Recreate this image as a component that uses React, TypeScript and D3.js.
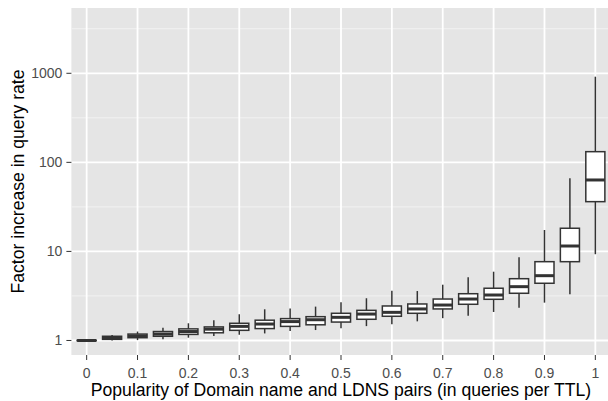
import React from "react";
import * as d3 from "d3";

// popularity bins (queries per TTL)
const categories = ["0", "0.05", "0.1", "0.15", "0.2", "0.25", "0.3", "0.35", "0.4", "0.45", "0.5",
  "0.55", "0.6", "0.65", "0.7", "0.75", "0.8", "0.85", "0.9", "0.95", "1"];
const xTickLabels = ["0", "0.1", "0.2", "0.3", "0.4", "0.5", "0.6", "0.7", "0.8", "0.9", "1"];

// box stats
const whiskerLow = [0.99, 1.0, 1.01, 1.03, 1.075, 1.12, 1.16, 1.2, 1.28, 1.31, 1.37,
  1.45, 1.52, 1.64, 1.78, 1.9, 2.09, 2.33, 2.66, 3.3, 9.3];
const q1 = [0.995, 1.03, 1.075, 1.115, 1.17, 1.22, 1.3, 1.36, 1.44, 1.5, 1.61,
  1.73, 1.87, 2.02, 2.26, 2.55, 2.9, 3.39, 4.39, 7.67, 36.2];
const median = [1.0, 1.07, 1.12, 1.18, 1.26, 1.34, 1.44, 1.53, 1.63, 1.71, 1.82,
  1.98, 2.07, 2.26, 2.5, 2.92, 3.24, 4.02, 5.34, 11.5, 63.4];
const q3 = [1.005, 1.115, 1.18, 1.26, 1.35, 1.42, 1.56, 1.69, 1.76, 1.85, 2.02,
  2.18, 2.44, 2.57, 2.92, 3.35, 3.86, 4.94, 7.67, 18.2, 131.8];
const whiskerHigh = [1.01, 1.15, 1.26, 1.39, 1.56, 1.69, 1.97, 2.24, 2.28, 2.4, 2.68,
  2.98, 3.62, 3.59, 4.23, 5.12, 5.92, 8.59, 17.4, 66.2, 916];

const yTicks = [1, 10, 100, 1000];
const yMinor = [Math.sqrt(10), Math.sqrt(1000), Math.sqrt(100000), Math.sqrt(10000000)];

const W = 608, H = 401;
const panel = { left: 71.4, right: 610.6, top: 8, bottom: 355 };
const font = "'Liberation Sans', Arial, Helvetica, sans-serif";

export default function App() {
  const x = d3.scalePoint<string>()
    .domain(categories)
    .range([panel.left, panel.right])
    .padding(0.6);
  const y = d3.scaleLog()
    .domain([Math.pow(10, -0.163), Math.pow(10, 3.733)])
    .range([panel.bottom, panel.top]);
  const bw = x.step() * 0.75;
  const boxStroke = "#333333";

  return (
    <svg width={W} height={H} style={{ position: "absolute", left: 0, top: 0, background: "#fff" }}>
      <rect x={panel.left} y={panel.top} width={panel.right - panel.left}
        height={panel.bottom - panel.top} fill="#E5E5E5" />
      {yMinor.map((v, i) => (
        <line key={"ym" + i} x1={panel.left} x2={panel.right} y1={y(v)} y2={y(v)}
          stroke="#F2F2F2" strokeWidth={1} />
      ))}
      {yTicks.map((v) => (
        <line key={"yg" + v} x1={panel.left} x2={panel.right} y1={y(v)} y2={y(v)}
          stroke="#ffffff" strokeWidth={1.8} />
      ))}
      {xTickLabels.map((c) => (
        <line key={"xg" + c} x1={x(c)} x2={x(c)} y1={panel.top} y2={panel.bottom}
          stroke="#ffffff" strokeWidth={1.8} />
      ))}

      {categories.map((c, i) => {
        const cx = x(c) as number;
        return (
          <g key={"box" + c}>
            <line x1={cx} x2={cx} y1={y(whiskerHigh[i])} y2={y(q3[i])} stroke={boxStroke} strokeWidth={1.5} />
            <line x1={cx} x2={cx} y1={y(q1[i])} y2={y(whiskerLow[i])} stroke={boxStroke} strokeWidth={1.5} />
            <rect x={cx - bw / 2} y={y(q3[i])} width={bw} height={Math.max(0, y(q1[i]) - y(q3[i]))}
              fill="#ffffff" stroke={boxStroke} strokeWidth={1.5} />
            <line x1={cx - bw / 2} x2={cx + bw / 2} y1={y(median[i])} y2={y(median[i])}
              stroke={boxStroke} strokeWidth={3} />
          </g>
        );
      })}

      {/* y axis */}
      {yTicks.map((v) => (
        <g key={"yt" + v}>
          <line x1={panel.left - 5} x2={panel.left} y1={y(v)} y2={y(v)} stroke="#333333" strokeWidth={1} />
          <text x={panel.left - 9} y={y(v)} dy="0.35em" textAnchor="end" fontFamily={font}
            fontSize={14} fill="#4D4D4D">{v}</text>
        </g>
      ))}
      {/* x axis */}
      {xTickLabels.map((c) => (
        <g key={"xt" + c}>
          <line x1={x(c)} x2={x(c)} y1={panel.bottom} y2={panel.bottom + 5} stroke="#333333" strokeWidth={1} />
          <text x={x(c)} y={378.3} textAnchor="middle" fontFamily={font} fontSize={14} fill="#4D4D4D">{c}</text>
        </g>
      ))}

      <text x={(panel.left + panel.right) / 2} y={396} textAnchor="middle" fontFamily={font}
        fontSize={17.6} fill="#000">Popularity of Domain name and LDNS pairs (in queries per TTL)</text>
      <text transform={`translate(24, ${(panel.top + panel.bottom) / 2}) rotate(-90)`} textAnchor="middle"
        fontFamily={font} fontSize={17.6} fill="#000">Factor increase in query rate</text>
    </svg>
  );
}
